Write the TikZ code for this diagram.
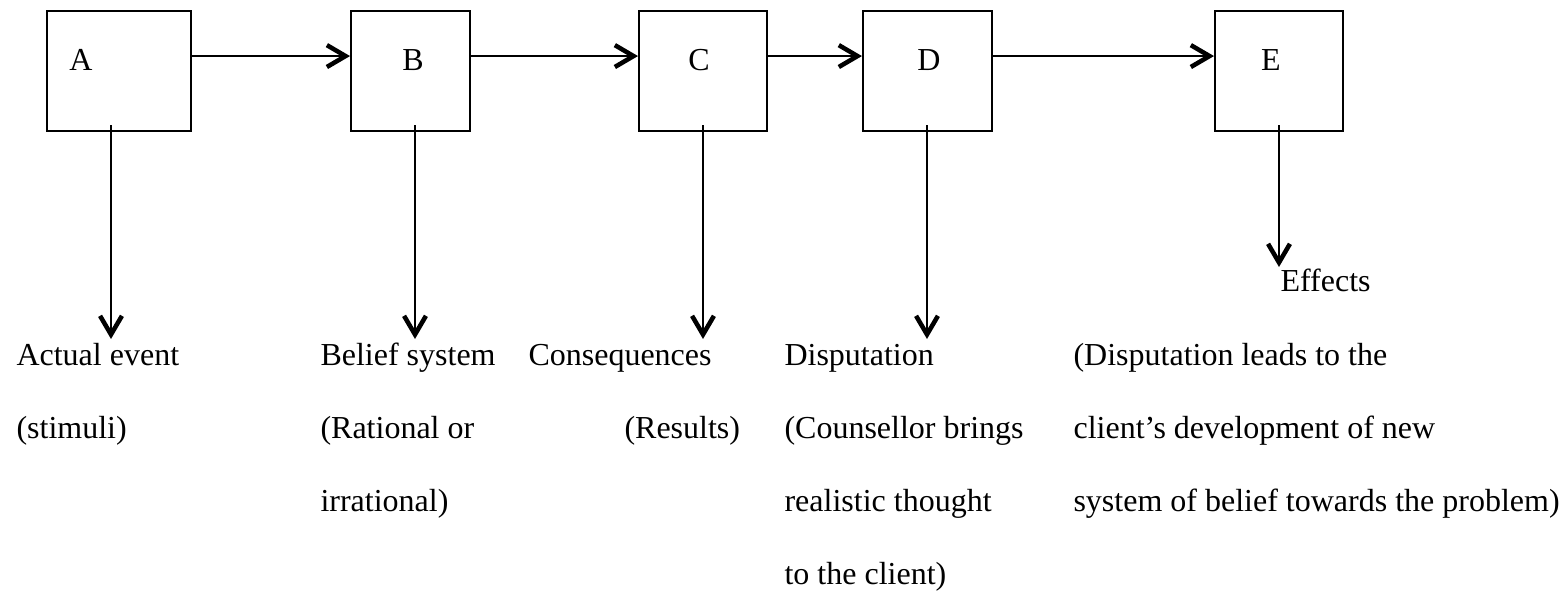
\documentclass[tikz,border=0pt]{standalone}
\usepackage{fontspec}
\setmainfont{Liberation Serif}
\usetikzlibrary{arrows.meta,positioning,calc}

\tikzset{
  stage/.style={draw,line width=0.75pt,minimum height=45pt,inner sep=0pt},
  letter/.style={font=\fontsize{12}{14}\selectfont,inner sep=0pt,anchor=base},
  note/.style={font=\fontsize{12}{14}\selectfont,inner sep=0pt,anchor=base west},
  flow/.style={->,line width=0.6pt}
}

\begin{document}
\begin{tikzpicture}[x=0.375pt,y=-0.375pt,>={Straight Barb[length=7pt,width=8.2pt,line width=1.7pt,sharp]}]
  \useasboundingbox (0,0) rectangle (1564,595);

  % Boxes of the model
  \node[stage,minimum width=54pt]   (A) at (119,71) {};
  \node[stage,minimum width=44.6pt] (B) at (410.5,71) {};
  \node[stage,minimum width=48pt]   (C) at (703,71) {};
  \node[stage,minimum width=48.4pt] (D) at (927.5,71) {};
  \node[stage,minimum width=48pt]   (E) at (1279,71) {};

  \node[letter] (la) at (81,71) {A};
  \node[letter] (lb) at (413,71) {B};
  \node[letter] (lc) at (699,71) {C};
  \node[letter] (ld) at (929,71) {D};
  \node[letter] (le) at (1271,71) {E};

  % Arrows along the row
  \draw[flow] ([yshift=5.6pt]A.east) -- ([yshift=5.6pt]B.west);
  \draw[flow] ([yshift=5.6pt]B.east) -- ([yshift=5.6pt]C.west);
  \draw[flow] ([yshift=5.6pt]C.east) -- ([yshift=5.6pt]D.west);
  \draw[flow] ([yshift=5.6pt]D.east) -- ([yshift=5.6pt]E.west);

  % Arrow ends below the boxes
  \coordinate (ta) at (111,339);
  \coordinate (tb) at (415,339);
  \coordinate (tc) at (703,339);
  \coordinate (td) at (927,339);
  \coordinate (te) at (1279,267);

  \draw[flow] ([yshift=2.6pt]A.south -| ta) -- (ta);
  \draw[flow] ([yshift=2.6pt]B.south -| tb) -- (tb);
  \draw[flow] ([yshift=2.6pt]C.south -| tc) -- (tc);
  \draw[flow] ([yshift=2.6pt]D.south -| td) -- (td);
  \draw[flow] ([yshift=2.6pt]E.south -| te) -- (te);

  % Explanations
  \node[note] (a1) at (16,365) {Actual event};
  \node[note] (a2) at (16,438) {(stimuli)};

  \node[note] (b1) at (320,365) {Belief system};
  \node[note] (b2) at (320,438) {(Rational or};
  \node[note] (b3) at (320,511) {irrational)};

  \node[note] (c1) at (528,365) {Consequences};
  \node[note] (c2) at (624,438) {(Results)};

  \node[note] (d1) at (784,365) {Disputation};
  \node[note] (d2) at (784,438) {(Counsellor brings};
  \node[note] (d3) at (784,511) {realistic thought};
  \node[note] (d4) at (784,584) {to the client)};

  \node[note] (e0) at (1280,292) {Effects};
  \node[note] (e1) at (1073,365) {(Disputation leads to the};
  \node[note] (e2) at (1073,438) {client’s development of new};
  \node[note] (e3) at (1073,511) {system of belief towards the problem)};
\end{tikzpicture}
\end{document}
